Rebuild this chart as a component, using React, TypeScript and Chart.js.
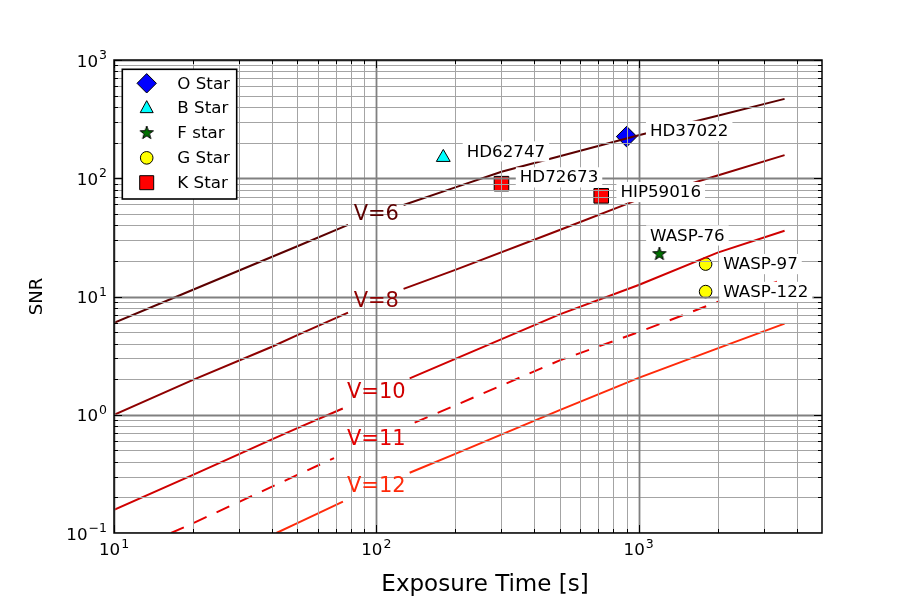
import React, { useEffect, useRef } from 'react';
import { Chart, registerables } from 'chart.js';

Chart.register(...registerables);

// ---------------- data ----------------
const xLimits = [10, 5000];
const yLimits = [0.1, 1000];

// SNR curves (exposure time [s] -> SNR); null marks the gap where the label sits
const v6Time = [10, 20, 50, 78, 100, 127, 200, 300, 500, 1000, 2000, 3600];
const v6Snr = [6.0, 11.4, 26.6, 40.3, null, 59.4, 83.7, 113.6, 153.6, 231, 338, 469];
const v8Time = [10, 20, 40, 50, 78, 100, 127, 200, 500, 1000, 2000, 3600];
const v8Snr = [1.0, 1.97, 3.76, 4.72, 7.3, null, 11.6, 16.8, 36.5, 66.3, 105.5, 157];
const v10Time = [10, 20, 40, 50, 74.5, 100, 134, 200, 500, 1000, 2000, 3600];
const v10Snr = [0.157, 0.31, 0.62, 0.77, 1.13, null, 2.03, 2.97, 7.06, 12.5, 23.5, 36];
const v11Time = [16.5, 20, 50, 69, 100, 140, 200, 500, 1000, 2000, 3600];
const v11Snr = [0.1, 0.121, 0.31, 0.43, null, 0.857, 1.2, 2.88, 5.0, 9.0, 14.0];
const v12Time = [41.6, 50, 74.6, 100, 134, 200, 500, 1000, 2000, 3600];
const v12Snr = [0.1, 0.121, 0.184, null, 0.323, 0.467, 1.095, 2.05, 3.64, 5.9];

const curveNames = ['V=6', 'V=8', 'V=10', 'V=11', 'V=12'];
const curveLabelTime = [100, 100, 100, 100, 100];
const curveLabelSnr = [50, 9.2, 1.56, 0.627, 0.253];

// observed stars
const oStarTime = [900];
const oStarSnr = [225];
const oStarNames = ['HD37022'];
const bStarTime = [180];
const bStarSnr = [150];
const bStarNames = ['HD62747'];
const fStarTime = [1200];
const fStarSnr = [22.9];
const fStarNames = ['WASP-76'];
const gStarTime = [1800, 1800];
const gStarSnr = [18.8, 11.0];
const gStarNames = ['WASP-97', 'WASP-122'];
const kStarTime = [300, 720];
const kStarSnr = [90, 71];
const kStarNames = ['HD72673', 'HIP59016'];

const xMajorTicks = [10, 100, 1000];
const xTickExp = ['1', '2', '3'];
const yMajorTicks = [0.1, 1, 10, 100, 1000];
const yTickExp = ['\u22121', '0', '1', '2', '3'];

// ---------------- styling ----------------
const FONT = '"DejaVu Sans", "Liberation Sans", sans-serif';
const curveColors = ['#5c0000', '#8e0000', '#d00000', '#e60000', '#ff2a0a'];
const annotationOffsets: Record<string, [number, number]> = {
  HD37022: [23.3, -6.7],
  HD62747: [23.4, -7],
  HD72673: [18.3, -7.3],
  HIP59016: [19.2, -4.8],
  'WASP-76': [-9.3, -19.5],
  'WASP-97': [17.6, -1],
  'WASP-122': [17.6, -0.7],
};

function toXY(t: number[], s: (number | null)[]) {
  return t.map((x, i) => ({ x, y: s[i] as any }));
}

function starPath(g: CanvasRenderingContext2D, cx: number, cy: number, R: number, r: number) {
  g.beginPath();
  for (let i = 0; i < 10; i++) {
    const a = -Math.PI / 2 + (i * Math.PI) / 5;
    const rad = i % 2 === 0 ? R : r;
    g.lineTo(cx + rad * Math.cos(a), cy + rad * Math.sin(a));
  }
  g.closePath();
}

function makeStarImage(): HTMLCanvasElement {
  const c = document.createElement('canvas');
  c.width = 16;
  c.height = 16;
  const g = c.getContext('2d')!;
  starPath(g, 8, 8, 7, 2.8);
  g.fillStyle = '#007000';
  g.fill();
  g.lineWidth = 1;
  g.strokeStyle = '#000';
  g.stroke();
  return c;
}

function minorList(lo: number, hi: number) {
  const out: number[] = [];
  for (let d = Math.pow(10, Math.floor(Math.log10(lo))); d <= hi; d *= 10) {
    for (let k = 1; k <= 9; k++) {
      const v = k * d;
      if (v >= lo * 0.999 && v <= hi * 1.001) out.push(v);
    }
  }
  return out;
}

function drawPow(ctx: CanvasRenderingContext2D, exp: string, x: number, baseline: number, align: 'center' | 'right') {
  ctx.font = `16.7px ${FONT}`;
  const wb = ctx.measureText('10').width;
  ctx.font = `12.5px ${FONT}`;
  const we = ctx.measureText(exp).width;
  const total = wb + 1 + we;
  const left = align === 'center' ? x - total / 2 : x - total;
  ctx.textAlign = 'left';
  ctx.textBaseline = 'alphabetic';
  ctx.fillStyle = '#000';
  ctx.font = `16.7px ${FONT}`;
  ctx.fillText('10', left, baseline);
  ctx.font = `12.5px ${FONT}`;
  ctx.fillText(exp, left + wb + 1, baseline - 7.5);
}

export default function App() {
  const ref = useRef<HTMLCanvasElement | null>(null);

  useEffect(() => {
    const canvas = ref.current;
    if (!canvas) return;
    const starImg = makeStarImage();

    const lineSets = [
      [v6Time, v6Snr],
      [v8Time, v8Snr],
      [v10Time, v10Snr],
      [v11Time, v11Snr],
      [v12Time, v12Snr],
    ].map(([t, s], i) => ({
      label: curveNames[i],
      data: toXY(t as number[], s as (number | null)[]),
      showLine: true,
      spanGaps: false,
      borderColor: curveColors[i],
      backgroundColor: curveColors[i],
      borderWidth: 2,
      borderDash: i === 3 ? [14, 11] : [],
      pointRadius: 0,
      pointHoverRadius: 0,
      fill: false,
    }));

    const starSets = [
      { label: 'O Star', t: oStarTime, s: oStarSnr, style: 'rectRot', r: 10.3, color: '#0000ff' },
      { label: 'B Star', t: bStarTime, s: bStarSnr, style: 'triangle', r: 8, color: '#00ffff' },
      { label: 'F star', t: fStarTime, s: fStarSnr, style: starImg, r: 7, color: '#007000' },
      { label: 'G Star', t: gStarTime, s: gStarSnr, style: 'circle', r: 6.3, color: '#ffff00' },
      { label: 'K Star', t: kStarTime, s: kStarSnr, style: 'rect', r: 10.3, color: '#ff0000' },
    ].map((d) => ({
      label: d.label,
      data: toXY(d.t, d.s),
      showLine: false,
      pointStyle: d.style as any,
      pointRadius: d.r,
      pointHoverRadius: d.r,
      pointBackgroundColor: d.color,
      pointBorderColor: '#000',
      pointBorderWidth: 1,
      backgroundColor: d.color,
      borderColor: '#000',
    }));

    const allNames: [number[], number[], string[]][] = [
      [oStarTime, oStarSnr, oStarNames],
      [bStarTime, bStarSnr, bStarNames],
      [fStarTime, fStarSnr, fStarNames],
      [gStarTime, gStarSnr, gStarNames],
      [kStarTime, kStarSnr, kStarNames],
    ];

    const overlay = {
      id: 'overlay',
      afterDatasetsDraw(chart: any) {
        const ctx: CanvasRenderingContext2D = chart.ctx;
        const a = chart.chartArea;
        const xs = chart.scales.x;
        const ys = chart.scales.y;
        const xMinor = minorList(xLimits[0], xLimits[1]);
        const yMinor = minorList(yLimits[0], yLimits[1]);
        const isMajor = (v: number) => Math.abs(Math.log10(v) - Math.round(Math.log10(v))) < 1e-6;

        ctx.save();
        ctx.beginPath();
        ctx.rect(a.left, a.top, a.right - a.left, a.bottom - a.top);
        ctx.clip();
        // grid (drawn above data, like the reference)
        const gridLine = (v: number, vertical: boolean) => {
          const major = isMajor(v);
          ctx.strokeStyle = major ? '#808080' : '#a4a4a4';
          ctx.lineWidth = major ? 1.8 : 1.0;
          ctx.beginPath();
          if (vertical) {
            const p = Math.round(xs.getPixelForValue(v)) + 0.5;
            ctx.moveTo(p, a.top);
            ctx.lineTo(p, a.bottom);
          } else {
            const p = Math.round(ys.getPixelForValue(v)) + 0.5;
            ctx.moveTo(a.left, p);
            ctx.lineTo(a.right, p);
          }
          ctx.stroke();
        };
        xMinor.filter((v) => !isMajor(v)).forEach((v) => gridLine(v, true));
        yMinor.filter((v) => !isMajor(v)).forEach((v) => gridLine(v, false));
        xMinor.filter(isMajor).forEach((v) => gridLine(v, true));
        yMinor.filter(isMajor).forEach((v) => gridLine(v, false));

        // inward ticks on all four sides
        ctx.strokeStyle = '#000';
        ctx.lineWidth = 1;
        xMinor.forEach((v) => {
          const len = isMajor(v) ? 8 : 4;
          const p = Math.round(xs.getPixelForValue(v)) + 0.5;
          ctx.beginPath();
          ctx.moveTo(p, a.bottom);
          ctx.lineTo(p, a.bottom - len);
          ctx.moveTo(p, a.top);
          ctx.lineTo(p, a.top + len);
          ctx.stroke();
        });
        yMinor.forEach((v) => {
          const len = isMajor(v) ? 8 : 4;
          const p = Math.round(ys.getPixelForValue(v)) + 0.5;
          ctx.beginPath();
          ctx.moveTo(a.left, p);
          ctx.lineTo(a.left + len, p);
          ctx.moveTo(a.right, p);
          ctx.lineTo(a.right - len, p);
          ctx.stroke();
        });

        // curve labels (inline, lines have gaps there)
        ctx.textAlign = 'center';
        ctx.textBaseline = 'middle';
        ctx.font = `21px ${FONT}`;
        curveNames.forEach((n, i) => {
          ctx.fillStyle = curveColors[i];
          ctx.fillText(n, xs.getPixelForValue(curveLabelTime[i]), ys.getPixelForValue(curveLabelSnr[i]) + 1);
        });
        ctx.restore();

        // border
        ctx.save();
        ctx.strokeStyle = '#000';
        ctx.lineWidth = 1.5;
        ctx.strokeRect(a.left, a.top, a.right - a.left, a.bottom - a.top);

        // star annotations with white boxes
        ctx.font = `16.7px ${FONT}`;
        ctx.textAlign = 'left';
        ctx.textBaseline = 'alphabetic';
        const cap = 12.2;
        allNames.forEach(([t, s, names]) => {
          names.forEach((name, i) => {
            const px = xs.getPixelForValue(t[i]);
            const py = ys.getPixelForValue(s[i]);
            const off = annotationOffsets[name] || [18, -5];
            const left = px + off[0];
            const base = py + off[1] + cap / 2;
            const w = ctx.measureText(name).width;
            ctx.fillStyle = '#fff';
            ctx.fillRect(left - 4, base - cap - 3, w + 8, cap + 8);
            ctx.fillStyle = '#000';
            ctx.fillText(name, left, base);
          });
        });

        // legend
        const lx = a.left + 8.3;
        const ly = a.top + 9.3;
        const lw = 114.4;
        const lh = 129.7;
        ctx.fillStyle = '#fff';
        ctx.fillRect(lx, ly, lw, lh);
        ctx.strokeStyle = '#000';
        ctx.lineWidth = 1.6;
        ctx.strokeRect(lx, ly, lw, lh);
        const rowY0 = ly + 14;
        const step = 24.85;
        const mx = lx + 24.4;
        chart.data.datasets.slice(5).forEach((ds: any, i: number) => {
          const y = rowY0 + i * step;
          ctx.fillStyle = ds.pointBackgroundColor;
          ctx.strokeStyle = '#000';
          ctx.lineWidth = 1;
          const st = ds.pointStyle;
          ctx.beginPath();
          if (st === 'rectRot') {
            const r = 9.7;
            ctx.moveTo(mx, y - r);
            ctx.lineTo(mx + r, y);
            ctx.lineTo(mx, y + r);
            ctx.lineTo(mx - r, y);
            ctx.closePath();
            ctx.fill();
            ctx.stroke();
          } else if (st === 'triangle') {
            const r = 7.5;
            ctx.moveTo(mx, y - r);
            ctx.lineTo(mx + r * 0.866, y + r * 0.6);
            ctx.lineTo(mx - r * 0.866, y + r * 0.6);
            ctx.closePath();
            ctx.fill();
            ctx.stroke();
          } else if (st === 'circle') {
            ctx.arc(mx, y, 6.3, 0, Math.PI * 2);
            ctx.fill();
            ctx.stroke();
          } else if (st === 'rect') {
            ctx.rect(mx - 7, y - 7, 14, 14);
            ctx.fill();
            ctx.stroke();
          } else {
            ctx.drawImage(st, mx - st.width / 2, y - st.height / 2);
          }
          ctx.fillStyle = '#000';
          ctx.font = `16.7px ${FONT}`;
          ctx.textAlign = 'left';
          ctx.textBaseline = 'middle';
          ctx.fillText(ds.label, lx + 55, y + 1);
        });

        // tick labels
        xMajorTicks.forEach((v, i) => {
          drawPow(ctx, xTickExp[i], xs.getPixelForValue(v), a.bottom + 22, 'center');
        });
        yMajorTicks.forEach((v, i) => {
          drawPow(ctx, yTickExp[i], a.left - 7, ys.getPixelForValue(v) + 6.5, 'right');
        });

        // axis titles
        ctx.fillStyle = '#000';
        ctx.textAlign = 'center';
        ctx.textBaseline = 'middle';
        ctx.font = `23px ${FONT}`;
        ctx.fillText('Exposure Time [s]', 485, 585);
        ctx.font = `18px ${FONT}`;
        ctx.save();
        ctx.translate(37, (a.top + a.bottom) / 2);
        ctx.rotate(-Math.PI / 2);
        ctx.fillText('SNR', 0, 0);
        ctx.restore();
        ctx.restore();
      },
    };

    const chart = new Chart(canvas, {
      type: 'scatter',
      data: { datasets: [...lineSets, ...starSets] as any },
      options: {
        responsive: false,
        animation: false,
        events: [],
        layout: { padding: { left: 0, right: 91, top: 60, bottom: 0 } },
        scales: {
          x: {
            type: 'logarithmic',
            min: xLimits[0],
            max: xLimits[1],
            grid: { display: false },
            border: { display: false },
            ticks: { display: false },
            afterFit: (s: any) => {
              s.height = 76;
            },
          },
          y: {
            type: 'logarithmic',
            min: yLimits[0],
            max: yLimits[1],
            grid: { display: false },
            border: { display: false },
            ticks: { display: false },
            afterFit: (s: any) => {
              s.width = 114;
            },
          },
        },
        plugins: {
          legend: { display: false },
          tooltip: { enabled: false },
        },
      },
      plugins: [overlay],
    });
    return () => chart.destroy();
  }, []);

  return (
    <div style={{ position: 'absolute', left: 0, top: 0, width: 913, height: 609, background: '#fff' }}>
      <canvas ref={ref} width={913} height={609} style={{ display: 'block', width: 913, height: 609 }} />
    </div>
  );
}
